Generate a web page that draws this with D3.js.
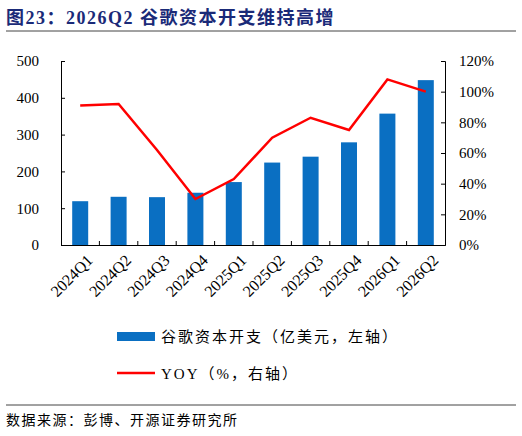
<!DOCTYPE html>
<html><head><meta charset="utf-8">
<script src="https://cdn.jsdelivr.net/npm/d3@7"></script>
<style>body{margin:0;background:#fff}</style></head>
<body><svg id="c" width="522" height="436"></svg>
<script>
const categories=["2024Q1","2024Q2","2024Q3","2024Q4","2025Q1","2025Q2","2025Q3","2025Q4","2026Q1","2026Q2"];
const capex=[119,131,130,142,171,224,240,279,357,448];
const yoy=[91,92,62,30,43,70,83,75,108,100];
const leftTicks=[0,100,200,300,400,500];
const rightTicks=[0,20,40,60,80,100,120];

const svg=d3.select("#c");
const F="'Liberation Serif','Noto Sans CJK SC',serif";
const L=61,R=445,T=61,B=245;
svg.append("text").attr("x",6).attr("y",24).attr("font-family",F).attr("font-weight","bold")
 .attr("font-size",18).attr("letter-spacing",1.5).attr("fill","#1a2a78").text("图23：2026Q2 谷歌资本开支维持高增");
svg.append("line").attr("x1",6).attr("x2",516).attr("y1",31).attr("y2",31).attr("stroke","#444").attr("stroke-width",1);
const x=d3.scaleBand().domain(categories).range([L,R]);
const y=d3.scaleLinear().domain([0,500]).range([B,T]);
const y2=d3.scaleLinear().domain([0,120]).range([B,T]);
svg.selectAll("rect.b").data(capex).enter().append("rect")
 .attr("x",(d,i)=>x(categories[i])+x.bandwidth()/2-8).attr("width",16)
 .attr("y",d=>y(d)).attr("height",d=>B-y(d)).attr("fill","#0a6fc2");
const line=d3.line().x((d,i)=>x(categories[i])+x.bandwidth()/2).y(d=>y2(d));
svg.append("path").datum(yoy).attr("d",line).attr("fill","none").attr("stroke","#f00").attr("stroke-width",2.5);
const ga=svg.append("g").attr("transform",`translate(${L},0)`).call(d3.axisLeft(y).tickValues(leftTicks).tickSize(-4).tickPadding(22));
const gr=svg.append("g").attr("transform",`translate(${R},0)`).call(d3.axisRight(y2).tickValues(rightTicks).tickSize(-4).tickPadding(14).tickFormat(d=>d+"%"));
const gx=svg.append("g").attr("transform",`translate(0,${B})`).call(d3.axisBottom(x).tickSize(0).tickPadding(10));
svg.append("g").attr("transform",`translate(0,${B})`).selectAll("line").data(d3.range(1,10)).enter().append("line")
 .attr("x1",i=>L+i*x.step()).attr("x2",i=>L+i*x.step()).attr("y1",0).attr("y2",-4).attr("stroke","#000");
[ga,gr,gx].forEach(g=>{g.selectAll("text").attr("font-family",F).attr("font-size",15).attr("fill","#000");
 g.selectAll("path,line").attr("stroke","#000");});
gx.selectAll("text").attr("font-size",16).attr("transform","rotate(-45)").attr("text-anchor","end").attr("dx","-2").attr("dy","0.7em");
ga.selectAll("text").attr("text-anchor","end");
// legend
svg.append("rect").attr("x",117).attr("y",332).attr("width",38).attr("height",9).attr("fill","#0a6fc2");
svg.append("text").attr("x",161).attr("y",342).attr("font-family",F).attr("font-size",15).attr("letter-spacing",2).text("谷歌资本开支（亿美元，左轴）");
svg.append("line").attr("x1",117).attr("x2",155).attr("y1",373).attr("y2",373).attr("stroke","#f00").attr("stroke-width",2.5);
svg.append("text").attr("x",161).attr("y",379).attr("font-family",F).attr("font-size",15).attr("letter-spacing",2).text("YOY（%，右轴）");
svg.append("line").attr("x1",6).attr("x2",516).attr("y1",405).attr("y2",405).attr("stroke","#444");
svg.append("text").attr("x",6).attr("y",425).attr("font-family",F).attr("font-size",14).attr("letter-spacing",1.5).text("数据来源：彭博、开源证券研究所");
</script></body></html>
